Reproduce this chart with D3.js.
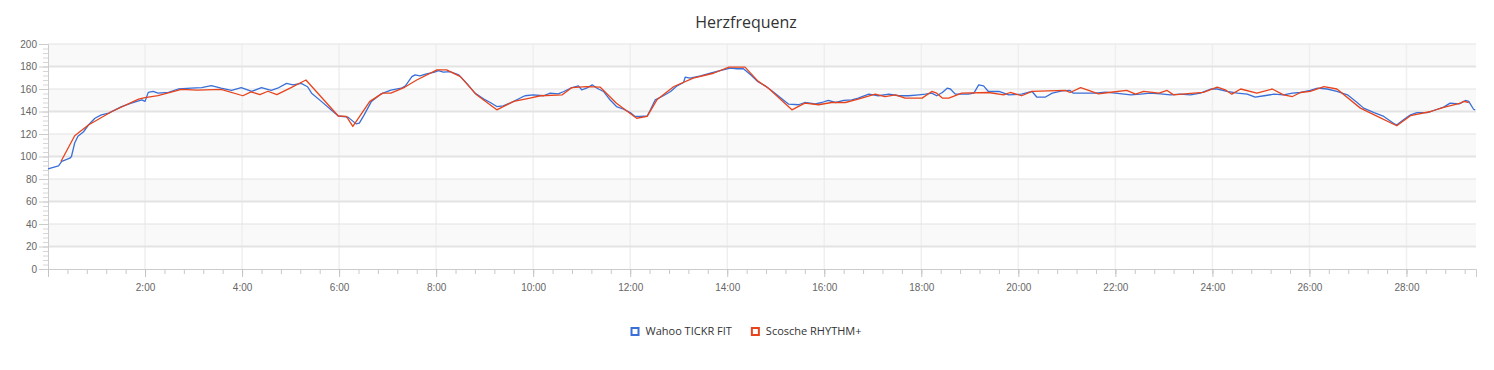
<!DOCTYPE html>
<html>
<head>
<meta charset="utf-8">
<script src="https://cdn.jsdelivr.net/npm/d3@7"></script>
<style>
  body { margin: 0; background: #fff; }
  svg { font-family: "Open Sans", "Noto Sans", sans-serif; }
</style>
</head>
<body>
<div id="chart"></div>
<script>
// [seconds, bpm]
const wahooTickr = [
  [0, 89], [13, 91.7], [17, 95.6], [27, 98.5], [29, 100], [33, 112], [37, 118], [44, 122],
  [50, 128], [58, 134], [66, 137], [75, 138.5], [83, 141.5], [91, 144.4], [103, 147.4],
  [116, 150.4], [120, 149], [124, 157], [130, 157.8], [136, 156.3], [149, 157], [161, 160],
  [177, 160.7], [190, 161.3], [202, 163], [214, 160.7], [227, 158.7], [239, 161.3],
  [252, 157.8], [264, 161.3], [276, 158.7], [284, 160.7], [295, 165], [303, 163.7],
  [313, 165], [321, 162], [326, 156.3], [338, 149], [350, 141.5], [359, 136], [371, 135],
  [381, 129], [385, 129.6], [391, 137], [400, 149], [412, 155.7], [424, 159], [437, 160.7],
  [442, 162.8], [450, 171], [454, 172.6], [460, 171.7], [468, 173.5], [477, 174.7],
  [483, 176.4], [489, 175], [497, 175.5], [508, 172.6], [518, 165], [528, 156.3], [539, 151],
  [547, 148], [555, 144.4], [563, 145], [576, 149], [586, 152.7], [590, 154], [600, 154.8],
  [613, 154], [621, 156.3], [631, 155.7], [638, 157.8], [646, 160.7], [656, 162.8],
  [660, 159.3], [666, 160.7], [673, 163.7], [679, 160.7], [687, 157.8], [695, 150.4],
  [703, 144.4], [712, 142], [720, 139], [726, 135.6], [732, 135.6], [741, 136], [745, 141.5],
  [751, 150.4], [761, 154], [770, 157.8], [778, 162.8], [786, 165.8], [788, 170.5],
  [794, 169.6], [807, 171.7], [819, 174], [831, 176.4], [844, 178.5], [852, 178], [860, 178],
  [869, 172.6], [877, 167], [887, 162.8], [899, 156.3], [916, 146.5], [928, 146], [936, 148],
  [949, 146.8], [957, 148], [965, 149.8], [974, 148], [984, 149.8], [994, 150.4],
  [1002, 151.9], [1015, 155.4], [1027, 154], [1040, 155.4], [1052, 154], [1064, 154],
  [1077, 154.8], [1085, 155.4], [1093, 156.3], [1099, 154], [1106, 156.9], [1112, 160.7],
  [1116, 160], [1122, 155.4], [1138, 155.4], [1145, 156.3], [1151, 163.7], [1157, 162.8],
  [1163, 157.8], [1176, 157.8], [1188, 154.8], [1204, 155.4], [1217, 157.8], [1223, 152.7],
  [1233, 152.7], [1242, 156.3], [1254, 158.4], [1264, 158.7], [1268, 156.3], [1283, 156.3],
  [1295, 156.3], [1308, 157.2], [1320, 156.3], [1339, 154.8], [1351, 155.4], [1363, 156.3],
  [1376, 155.7], [1388, 154.8], [1400, 155.4], [1413, 154.8], [1425, 156.3], [1438, 160],
  [1446, 160], [1458, 157.8], [1471, 156.3], [1483, 155.4], [1493, 152.7], [1504, 154],
  [1516, 155.4], [1528, 154.8], [1539, 156.3], [1549, 156.9], [1561, 158.7], [1570, 160.7],
  [1582, 160], [1594, 157.8], [1607, 154.8], [1619, 148], [1627, 143], [1640, 139],
  [1652, 135.6], [1664, 129.6], [1668, 128], [1675, 132], [1685, 137], [1693, 139],
  [1706, 139], [1718, 142], [1726, 143.9], [1734, 147.4], [1745, 146.8], [1753, 149.8],
  [1757, 149], [1763, 142], [1765, 141.5]
]

const scoscheRhythm = [
  [16, 95.6], [33, 118.4], [50, 128], [79, 140], [112, 151], [120, 152.4], [136, 154.2],
  [165, 159.6], [185, 159], [214, 159.6], [241, 154], [251, 157.5], [262, 155], [272, 158],
  [283, 155], [300, 161], [319, 168], [359, 136], [369, 135.6], [377, 126.7], [398, 149],
  [414, 156.3], [424, 156.3], [441, 161.5], [456, 168], [481, 177], [493, 177], [510, 171],
  [530, 154.8], [555, 141.5], [576, 149], [596, 151.9], [609, 154], [636, 154.8],
  [648, 161.3], [666, 162.2], [683, 161.6], [703, 147.4], [728, 134], [741, 135.6],
  [753, 150.4], [774, 162.2], [798, 169.6], [823, 174], [842, 179.4], [862, 179.4],
  [878, 167], [891, 160.7], [920, 141.5], [936, 147.4], [953, 146], [969, 148], [986, 148],
  [1002, 151], [1023, 155.4], [1035, 153.3], [1048, 154.8], [1060, 151.9], [1081, 151.9],
  [1093, 157.8], [1099, 156.3], [1106, 151.9], [1114, 151.9], [1130, 156.3], [1163, 156.9],
  [1182, 154.8], [1190, 156.9], [1204, 154], [1217, 157.8], [1237, 158.4], [1258, 158.7],
  [1264, 156.9], [1277, 161.3], [1287, 158.7], [1299, 155.7], [1312, 156.9], [1334, 158.7],
  [1345, 155.4], [1355, 157.8], [1374, 156.3], [1384, 158.7], [1392, 154.8], [1417, 156.3],
  [1429, 157], [1446, 161.6], [1456, 159.3], [1464, 155.4], [1475, 160], [1495, 156.3],
  [1514, 160], [1528, 154.8], [1539, 153.3], [1549, 156.9], [1561, 157.8], [1578, 162.2],
  [1594, 160], [1623, 143], [1644, 135.6], [1668, 127.3], [1685, 136.3], [1710, 140],
  [1726, 143.7], [1747, 147.4], [1751, 149], [1757, 148]
]

const seriesNames = ['Wahoo TICKR FIT', 'Scosche RHYTHM+']
const seriesColors = ['#3a6fd8', '#e8441c']
const yTicks = [0, 20, 40, 60, 80, 100, 120, 140, 160, 180, 200]
const xTicks = d3.range(0, 1766, 120) // every 2:00
const xMinor = d3.range(0, 1766, 24)
const yMinor = d3.range(0, 201, 4)
const duration = 1766

const width = 1494
const height = 370
const margin = { top: 44, right: 18, bottom: 101, left: 48 }

const svg = d3.select('#chart').append('svg')
  .attr('width', width)
  .attr('height', height)

const x = d3.scaleLinear().domain([0, duration]).range([margin.left, width - margin.right])
const y = d3.scaleLinear().domain([0, 200]).range([height - margin.bottom, margin.top])

const fmt = s => s === 0 ? '' : Math.floor(s / 60) + ':' + String(s % 60).padStart(2, '0')

// alternating bands
svg.append('g').selectAll('rect')
  .data(yTicks.filter(v => v % 40 === 20))
  .join('rect')
  .attr('x', x(0))
  .attr('width', x(duration) - x(0))
  .attr('y', d => y(d + 20))
  .attr('height', d => y(d) - y(d + 20))
  .attr('fill', '#f9f9f9')

// vertical grid
svg.append('g').selectAll('line')
  .data(xTicks.slice(1))
  .join('line')
  .attr('x1', d => x(d)).attr('x2', d => x(d))
  .attr('y1', y(200)).attr('y2', y(0))
  .attr('stroke', '#efefef')
  .attr('stroke-width', 1.5)

// horizontal grid
svg.append('g').selectAll('line')
  .data(yTicks.slice(1))
  .join('line')
  .attr('x1', x(0)).attr('x2', x(duration))
  .attr('y1', d => y(d)).attr('y2', d => y(d))
  .attr('stroke', '#e3e3e3')
  .attr('stroke-width', d => d % 40 === 20 ? 2 : 1)

// minor ticks
svg.append('g')
  .attr('transform', `translate(${margin.left},0)`)
  .call(d3.axisLeft(y).tickValues(yMinor).tickSize(5).tickFormat(''))
  .call(g => g.select('.domain').remove())
  .call(g => g.selectAll('line').attr('stroke', '#d6d6d6'))

svg.append('g')
  .attr('transform', `translate(0,${y(0)})`)
  .call(d3.axisBottom(x).tickValues(xMinor).tickSize(5).tickFormat(''))
  .call(g => g.select('.domain').remove())
  .call(g => g.selectAll('line').attr('stroke', '#c8c8c8'))

// y axis
svg.append('g')
  .attr('transform', `translate(${margin.left},0)`)
  .call(d3.axisLeft(y).tickValues(yTicks).tickSize(9).tickPadding(2))
  .call(g => g.select('.domain').attr('stroke', '#cccccc'))
  .call(g => g.selectAll('line').attr('stroke', '#cccccc'))
  .call(g => g.selectAll('text').attr('fill', '#666').style('font-size', '10px'))

// x axis
svg.append('g')
  .attr('transform', `translate(0,${y(0)})`)
  .call(d3.axisBottom(x).tickValues(xTicks).tickSize(8).tickPadding(7).tickFormat(fmt))
  .call(g => g.select('.domain').attr('stroke', '#cccccc'))
  .call(g => g.selectAll('line').attr('stroke', '#c4c4c4'))
  .call(g => g.selectAll('text').attr('fill', '#666').style('font-size', '10px'))

// lines
const line = d3.line().x(d => x(d[0])).y(d => y(d[1]))

svg.append('g').selectAll('path')
  .data([wahooTickr, scoscheRhythm])
  .join('path')
  .attr('d', line)
  .attr('fill', 'none')
  .attr('stroke', (_, i) => seriesColors[i])
  .attr('stroke-width', 1.3)
  .attr('stroke-linejoin', 'round')

// title
svg.append('text')
  .attr('x', 746)
  .attr('y', 28)
  .attr('text-anchor', 'middle')
  .attr('fill', '#333')
  .style('font-size', '16px')
  .text('Herzfrequenz')

// legend
const legend = svg.append('g')
const items = legend.selectAll('g')
  .data(seriesNames)
  .join('g')

items.append('rect')
  .attr('x', 1).attr('y', -7)
  .attr('width', 7).attr('height', 7)
  .attr('fill', 'none')
  .attr('stroke', (_, i) => seriesColors[i])
  .attr('stroke-width', 2)

items.append('text')
  .attr('x', 15)
  .attr('y', 0)
  .attr('fill', '#333')
  .style('font-size', '11px')
  .text(d => d)

let offset = 0
items.each(function () {
  const w = d3.select(this).select('text').node().getComputedTextLength() + 15
  d3.select(this).attr('transform', `translate(${offset},0)`)
  offset += w + 19
})
offset -= 19
legend.attr('transform', `translate(${746 - offset / 2},335)`)
</script>
</body>
</html>
